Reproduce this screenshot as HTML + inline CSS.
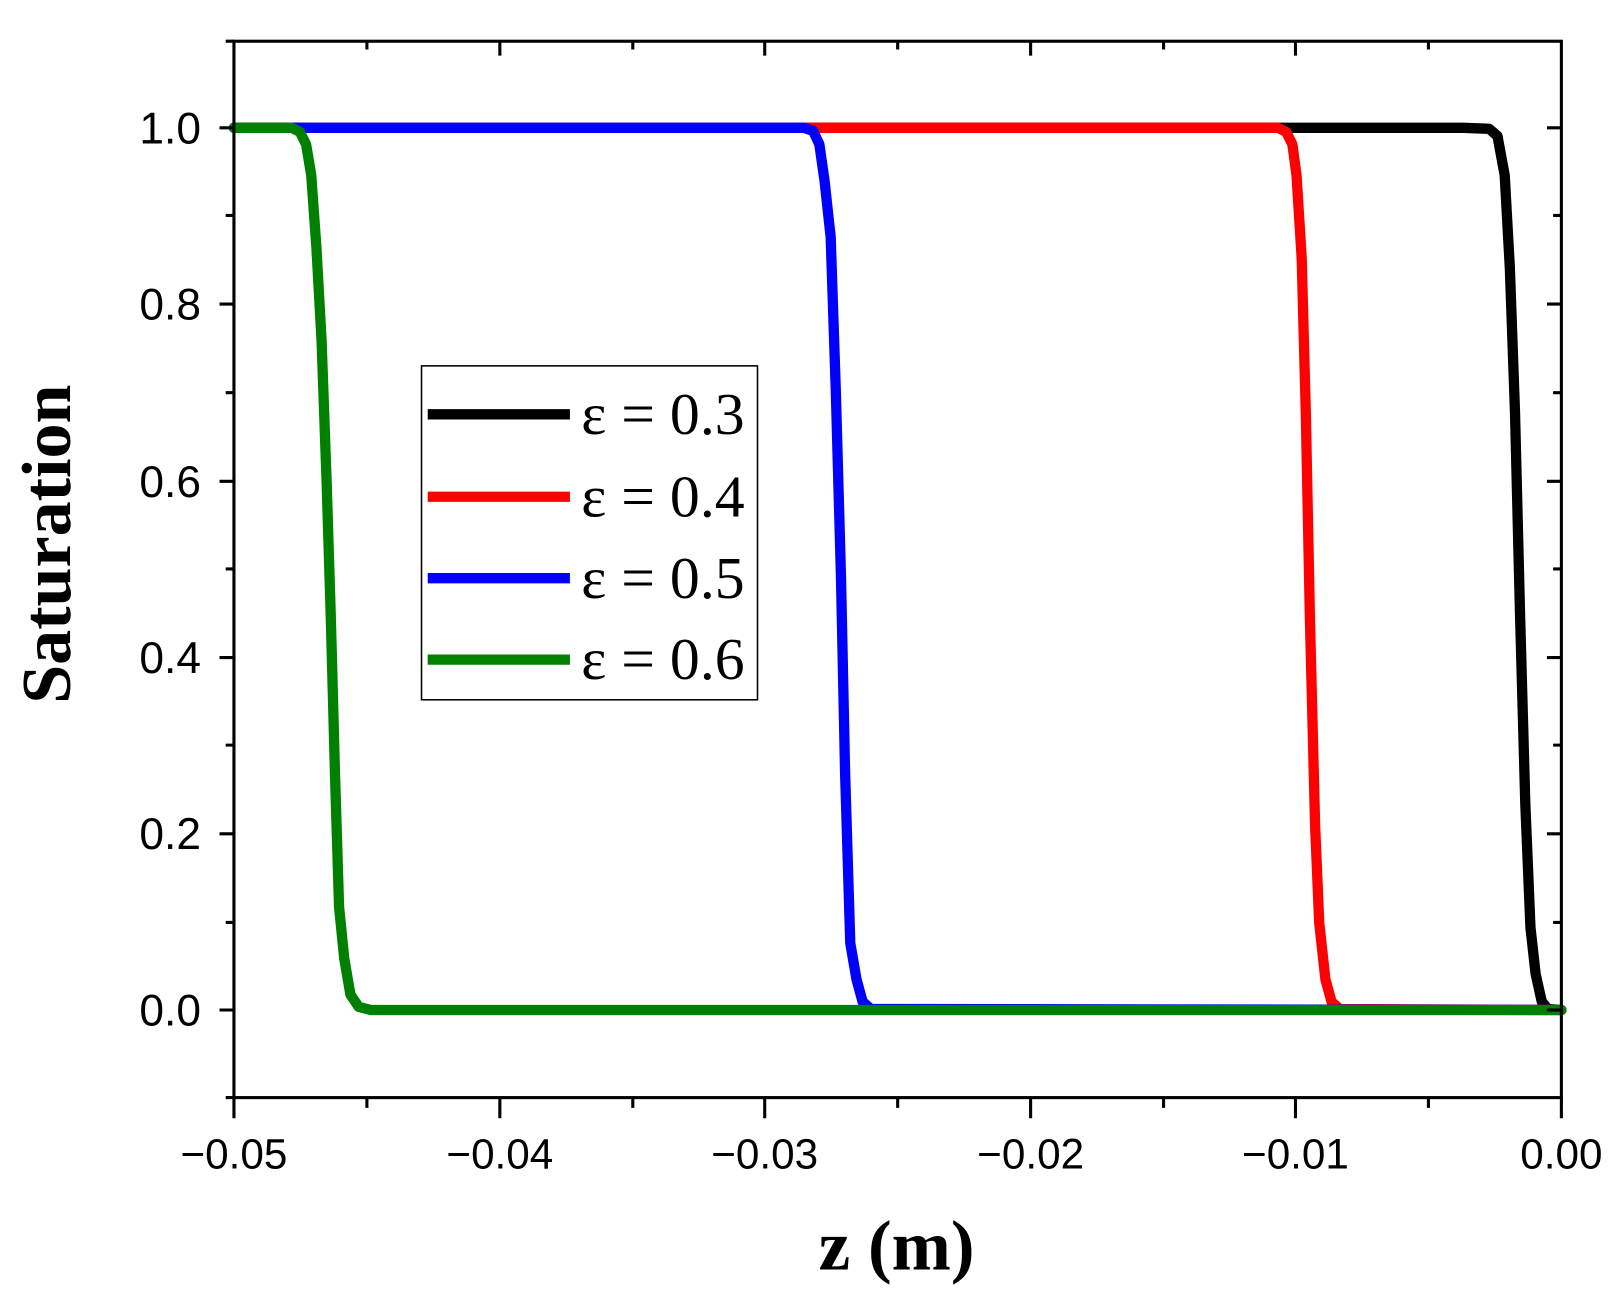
<!DOCTYPE html>
<html><head><meta charset="utf-8"><style>html,body{margin:0;padding:0;background:#fff}svg{display:block}</style></head>
<body>
<svg width="1616" height="1306" viewBox="0 0 1568 1267.2" xmlns="http://www.w3.org/2000/svg">
<rect width="1568" height="1268" fill="#fff"/>
<g fill="none" stroke-width="10" stroke-linejoin="round" stroke-linecap="round">
<polyline stroke="#000" points="227,124 1420,124 1445,125 1453,132 1460,170 1465,260 1470,400 1475,600 1480,780 1485,900 1490,945 1496,972 1502,979 1515,980"/>
<polyline stroke="#f00" points="227,124 1240,124 1248,128 1254,140 1258,170 1263,250 1267,400 1271,600 1276,800 1280,895 1286,950 1292,972 1300,979 1515,980"/>
<polyline stroke="#00f" points="227,124 780,124 789,127 795,140 800,175 806,230 811,380 816,560 820,750 825,915 831,950 837,972 845,979 1515,980"/>
<polyline stroke="#008000" points="227,124 283,124 291,128 297,140 302,170 307,240 312,330 317,470 321,600 325,750 329,880 334,930 340,965 348,977 360,980 1515,980"/>
</g>
<g stroke="#000" stroke-width="3" fill="none">
<rect x="227" y="40" width="1288" height="1025"/>
<path d="M227 124h-14M227 295h-14M227 467h-14M227 638h-14M227 809h-14M227 980h-14M227 209h-8M227 381h-8M227 552h-8M227 723h-8M227 895h-8M227 1065h-8M227 40h-8"/>
<path d="M1515 124h-14M1515 295h-14M1515 467h-14M1515 638h-14M1515 809h-14M1515 980h-14M1515 209h-8M1515 381h-8M1515 552h-8M1515 723h-8M1515 895h-8"/>
<path d="M227 1065v20M485 1065v20M742 1065v20M1000 1065v20M1257 1065v20M1515 1065v20M356 1065v10M614 1065v10M871 1065v10M1129 1065v10M1386 1065v10"/>
<path d="M485 40v14M742 40v14M1000 40v14M1257 40v14M356 40v8M614 40v8M871 40v8M1129 40v8M1386 40v8"/>
</g>
<g font-family="Liberation Sans, Arial, sans-serif" font-size="43" fill="#000" text-anchor="end">
<text x="195" y="139">1.0</text><text x="195" y="310">0.8</text><text x="195" y="482">0.6</text>
<text x="195" y="653">0.4</text><text x="195" y="824">0.2</text><text x="195" y="995">0.0</text>
</g>
<g font-family="Liberation Sans, Arial, sans-serif" font-size="41" fill="#000" text-anchor="middle">
<text x="227" y="1134">−0.05</text><text x="485" y="1134">−0.04</text><text x="742" y="1134">−0.03</text>
<text x="1000" y="1134">−0.02</text><text x="1257" y="1134">−0.01</text><text x="1515" y="1134">0.00</text>
</g>
<text x="870" y="1232" font-family="Liberation Serif, serif" font-weight="bold" font-size="69" text-anchor="middle">z (m)</text>
<text transform="translate(68,528) rotate(-90)" font-family="Liberation Serif, serif" font-weight="bold" font-size="68" text-anchor="middle">Saturation</text>
<rect x="409" y="355" width="326" height="324" fill="#fff" stroke="#000" stroke-width="1.5"/>
<g stroke-width="10">
<line x1="415" y1="402" x2="553" y2="402" stroke="#000"/>
<line x1="415" y1="482" x2="553" y2="482" stroke="#f00"/>
<line x1="415" y1="561" x2="553" y2="561" stroke="#00f"/>
<line x1="415" y1="640" x2="553" y2="640" stroke="#008000"/>
</g>
<g font-family="Liberation Serif, serif" font-size="58" fill="#000">
<text x="564" y="421">ε = 0.3</text><text x="564" y="501">ε = 0.4</text>
<text x="564" y="580">ε = 0.5</text><text x="564" y="659">ε = 0.6</text>
</g>
</svg>
</body></html>
